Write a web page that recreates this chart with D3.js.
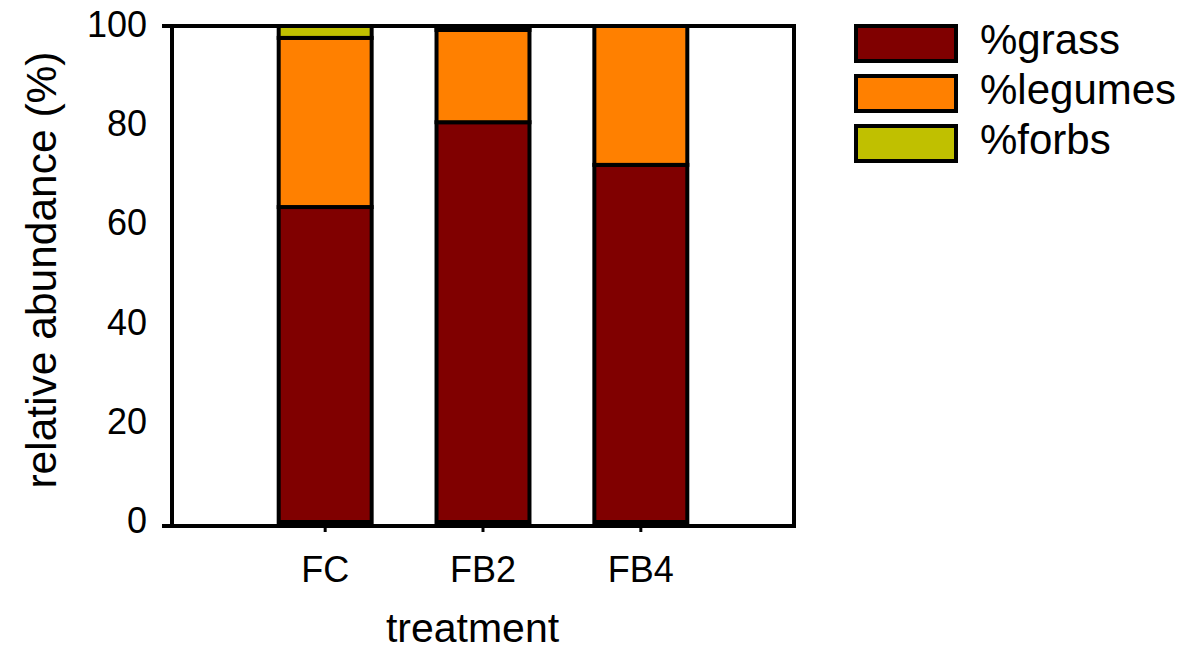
<!DOCTYPE html>
<html>
<head>
<meta charset="utf-8">
<script src="https://cdn.jsdelivr.net/npm/d3@7"></script>
<style>
  html, body { margin: 0; padding: 0; background: #fff; }
  svg { display: block; }
  text { font-family: "Liberation Sans", Arial, sans-serif; fill: #000; }
</style>
</head>
<body>
<svg id="chart" width="1189" height="651"></svg>
<script>
// ---- data ----
const categories = ["FC", "FB2", "FB4"];
const seriesNames = ["%grass", "%legumes", "%forbs"];
const grass   = [63.5, 80.6, 72.0];
const legumes = [34.1, 18.6, 28.0];
const forbs   = [2.4, 0.8, 0.0];
const yTicks  = [0, 20, 40, 60, 80, 100];
const colors  = ["#800000", "#FF8000", "#C0C000"];
const xTitle = "treatment";
const yTitle = "relative abundance (%)";

// ---- layout ----
const svg = d3.select("#chart");
const plot = { left: 172, right: 794, top: 26, bottom: 526 };

const x = d3.scaleBand()
  .domain(categories)
  .range([plot.left, plot.right])
  .paddingInner(0.411)
  .paddingOuter(0.676);

const y = d3.scaleLinear().domain([0, 100]).range([522, 26]);

const rows = categories.map((c, i) => ({ cat: c, "%grass": grass[i], "%legumes": legumes[i], "%forbs": forbs[i] }));
const stack = d3.stack().keys(seriesNames)(rows);
const color = d3.scaleOrdinal().domain(seriesNames).range(colors);

// bars
svg.append("g").selectAll("g")
  .data(stack)
  .join("g")
  .attr("fill", d => color(d.key))
  .selectAll("rect")
  .data(d => d.filter(p => p[1] - p[0] > 0))
  .join("rect")
  .attr("x", d => x(d.data.cat))
  .attr("width", x.bandwidth())
  .attr("y", d => y(d[1]))
  .attr("height", d => y(d[0]) - y(d[1]))
  .attr("stroke", "#000")
  .attr("stroke-width", 4);

// frame
const frame = svg.append("g").attr("stroke", "#000").attr("stroke-width", 4);
frame.append("line").attr("x1", 162).attr("x2", 796).attr("y1", plot.top).attr("y2", plot.top);
frame.append("line").attr("x1", 162).attr("x2", 796).attr("y1", plot.bottom).attr("y2", plot.bottom);
frame.append("line").attr("x1", plot.left).attr("x2", plot.left).attr("y1", 24).attr("y2", 528);
frame.append("line").attr("x1", plot.right).attr("x2", plot.right).attr("y1", 24).attr("y2", 528);

// x axis
const xAxis = svg.append("g")
  .attr("transform", `translate(0,${plot.bottom})`)
  .call(d3.axisBottom(x).tickSize(6).tickSizeOuter(0));
xAxis.select(".domain").remove();
xAxis.selectAll(".tick line").attr("stroke", "#000").attr("stroke-width", 3);
xAxis.selectAll(".tick text")
  .attr("y", 56).attr("dy", 0)
  .attr("font-size", 36)
  .style("font-family", "'Liberation Sans', Arial, sans-serif")
  .attr("fill", "#000");

// y axis
const yAxis = svg.append("g")
  .attr("transform", `translate(${plot.left},0)`)
  .call(d3.axisLeft(y).tickValues(yTicks).tickSize(0).tickPadding(25));
yAxis.select(".domain").remove();
yAxis.selectAll(".tick text")
  .attr("dy", "0.32em")
  .attr("y", -1)
  .attr("font-size", 36)
  .style("font-family", "'Liberation Sans', Arial, sans-serif")
  .attr("fill", "#000");

// axis titles
svg.append("text")
  .attr("x", 472.5).attr("y", 642)
  .attr("text-anchor", "middle")
  .attr("font-size", 41)
  .text(xTitle);

svg.append("text")
  .attr("transform", "translate(56,270) rotate(-90)")
  .attr("text-anchor", "middle")
  .attr("font-size", 42.5)
  .text(yTitle);

// legend
const legend = svg.append("g");
seriesNames.forEach((name, i) => {
  const g = legend.append("g").attr("transform", `translate(0,${i * 50})`);
  g.append("rect")
    .attr("x", 856).attr("y", 26).attr("width", 100).attr("height", 35)
    .attr("fill", color(name)).attr("stroke", "#000").attr("stroke-width", 4);
  g.append("text")
    .attr("x", 980).attr("y", 54)
    .attr("font-size", 42)
    .text(name);
});
</script>
</body>
</html>
